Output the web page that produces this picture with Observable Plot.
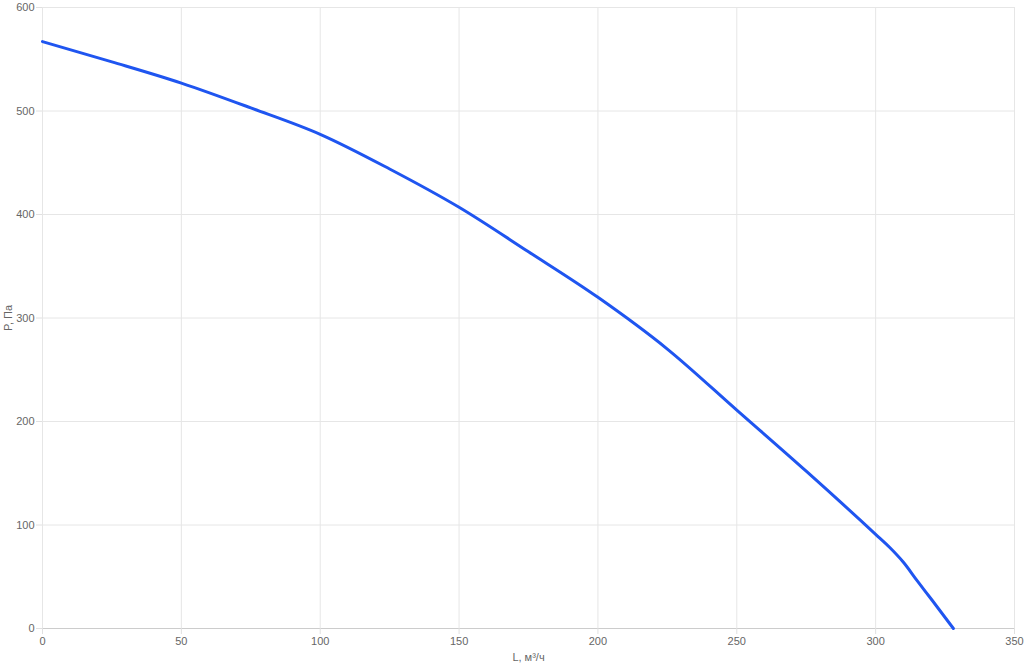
<!DOCTYPE html>
<html>
<head>
<meta charset="utf-8">
<script src="https://cdn.jsdelivr.net/npm/d3@7"></script>
<script src="https://cdn.jsdelivr.net/npm/@observablehq/plot@0.6"></script>
<style>
  html, body { margin: 0; padding: 0; background: #fff; }
  #chart svg { display: block; }
</style>
</head>
<body>
<div id="chart"></div>
<script>
// Airflow L (m³/h) and pressure P (Pa)
const flow     = [0, 25, 50, 75, 100, 125, 150, 175, 200, 225, 250, 275, 300, 305, 310, 315, 320, 328];
const pressure = [567, 547.5, 527, 503, 477.5, 444, 407, 364, 320, 270, 211, 152, 91, 78.5, 64, 46, 28.5, 0];
const xTicks = [0, 50, 100, 150, 200, 250, 300, 350];
const yTicks = [0, 100, 200, 300, 400, 500, 600];
const xLabel = "L, м³/ч";
const yLabel = "P, Па";

const data = flow.map((L, i) => ({L, P: pressure[i]}));

const chart = Plot.plot({
  width: 1024,
  height: 666,
  marginLeft: 42,
  marginRight: 10,
  marginTop: 7,
  marginBottom: 38,
  style: {fontFamily: "'Liberation Sans', Arial, sans-serif", fontSize: "11px", background: "#fff"},
  x: {domain: [0, 350]},
  y: {domain: [0, 600]},
  marks: [
    Plot.gridX(xTicks, {stroke: "#e6e6e6", strokeOpacity: 1}),
    Plot.gridY(yTicks, {stroke: "#e6e6e6", strokeOpacity: 1}),
    Plot.ruleY([0], {stroke: "#cccccc"}),
    Plot.axisX({ticks: xTicks, tickSize: 6, tickPadding: 3, stroke: "#e0e0e0", fill: "#666",
      label: xLabel, labelAnchor: "center", labelArrow: "none", labelOffset: 32}),
    Plot.axisY({ticks: yTicks, tickSize: 6, tickPadding: 2, stroke: "#e0e0e0", fill: "#666",
      label: yLabel, labelAnchor: "center", labelArrow: "none", labelOffset: 38}),
    Plot.line(data, {x: "L", y: "P", stroke: "#1f55f0", strokeWidth: 3, curve: "monotone-x"})
  ]
});
document.getElementById("chart").appendChild(chart);
</script>
</body>
</html>
